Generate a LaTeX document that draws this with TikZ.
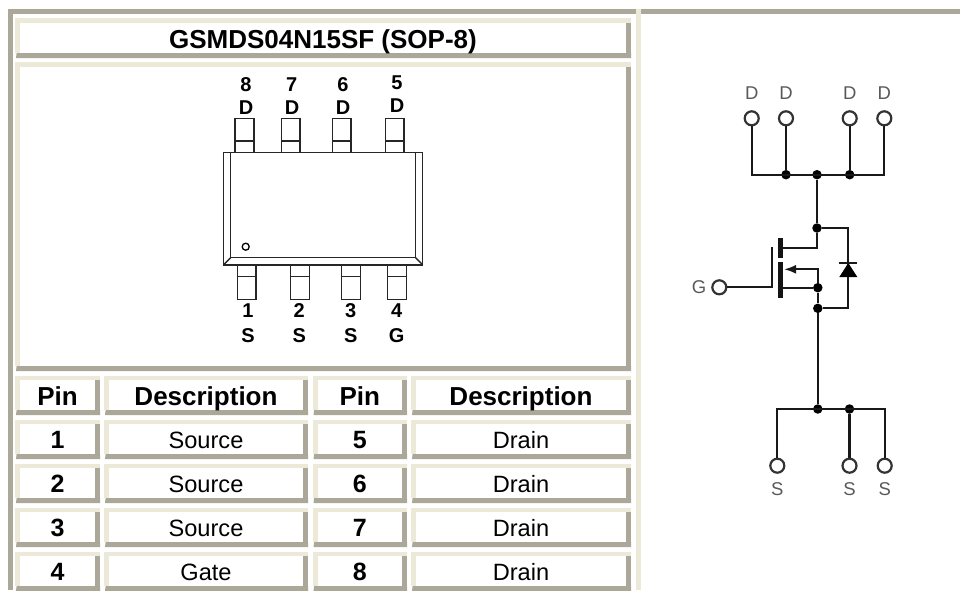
\documentclass[tikz,border=0pt]{standalone}
\usepackage{fontspec}
\setmainfont{Liberation Sans}
\usetikzlibrary{positioning, calc, arrows.meta}
\definecolor{edgedark}{HTML}{ACA899}
\definecolor{edgelight}{HTML}{ECE9D8}
\newcommand{\ppb}{path picture bounding box}
\tikzset{
	cell/.style n args={3}{minimum width=#1pt, minimum height=#2pt, inner sep=0pt, outer sep=0pt, text depth=0.4pt, text height=18pt,
		path picture={
			\fill[edgelight] (\ppb.north west) rectangle ([yshift=-#3pt]\ppb.north east);
			\fill[edgelight] (\ppb.north west) rectangle ([shift={(5pt,5pt)}]\ppb.south west);
			\fill[edgedark] ([yshift=-#3pt]\ppb.north east) rectangle ([shift={(-5pt,5pt)}]\ppb.south east);
			\fill[edgedark] ([xshift=1pt]\ppb.south west) -- ([shift={(1.6pt,5pt)}]\ppb.south west) -- ([yshift=5pt]\ppb.south east) -- (\ppb.south east) -- cycle;
	}},
	headtext/.style={font=\fontsize{26}{30}\selectfont\bfseries},
	pintext/.style={font=\fontsize{25}{30}\selectfont\bfseries},
	desctext/.style={font=\fontsize{23.6}{28}\selectfont},
	legend/.style={font=\fontsize{20}{22}\selectfont\bfseries, inner sep=0pt},
	schemtext/.style={font=\fontsize{18.5}{20}\selectfont, text=black!65, inner sep=0pt},
	pkg/.style={line width=1.4pt, black!85},
	wire/.style={line width=2.2pt, black!90},
	channel/.style={line width=5.4pt, black!92},
	port/.style={circle, draw=black!80, line width=2.2pt, fill=white, minimum size=14pt, inner sep=0pt},
	junction/.style={circle, fill=black, minimum size=9.5pt, inner sep=0pt},
}
\begin{document}
\begin{tikzpicture}[x=1pt, y=-1pt]
	\useasboundingbox (0,0) rectangle (960,590);
	
	%Outer frame
	\fill[edgedark] (8,9) rectangle (636,14);
	\fill[edgedark] (8,9) rectangle (13,590);
	\fill[edgedark] (641,9) rectangle (960,14);
	\fill[edgelight] (636,9) rectangle (641,590);
	
	%Title and package cells
	\node (titleCell) at (323,38) [cell={616}{40}{5}, headtext, text depth=0.6pt, text height=22pt]{GSMDS04N15SF (SOP-8)};
	\node (packageCell) at (323,216.5) [cell={616}{309}{5}]{};
	
	%Header row
	\node (headPinA) at (57.5,395.5) [cell={85}{39}{4}, headtext, text depth=0pt, text height=19pt]{Pin};
	\node (headDescA) at (206,395.5) [cell={204}{39}{4}, headtext, text depth=0pt, text height=19pt]{Description};
	\node (headPinB) at (359.75,395.5) [cell={94.5}{39}{4}, headtext, text depth=0pt, text height=19pt]{Pin};
	\node (headDescB) at (521,395.5) [cell={220}{39}{4}, headtext, text depth=0pt, text height=19pt]{Description};
	
	%Pin rows
	\node (pinA) at (57.5,439.5) [cell={85}{39}{4}, pintext]{1};
	\node (descA) at (206,439.5) [cell={204}{39}{4}, desctext]{Source};
	\node (pinE) at (359.75,439.5) [cell={94.5}{39}{4}, pintext]{5};
	\node (descE) at (521,439.5) [cell={220}{39}{4}, desctext]{Drain};
	
	\node (pinB) at (57.5,483.5) [cell={85}{39}{4}, pintext]{2};
	\node (descB) at (206,483.5) [cell={204}{39}{4}, desctext]{Source};
	\node (pinF) at (359.75,483.5) [cell={94.5}{39}{4}, pintext]{6};
	\node (descF) at (521,483.5) [cell={220}{39}{4}, desctext]{Drain};
	
	\node (pinC) at (57.5,527.5) [cell={85}{39}{4}, pintext]{3};
	\node (descC) at (206,527.5) [cell={204}{39}{4}, desctext]{Source};
	\node (pinG) at (359.75,527.5) [cell={94.5}{39}{4}, pintext]{7};
	\node (descG) at (521,527.5) [cell={220}{39}{4}, desctext]{Drain};
	
	\node (pinD) at (57.5,571.5) [cell={85}{39}{4}, pintext]{4};
	\node (descD) at (206,571.5) [cell={204}{39}{4}, desctext]{Gate};
	\node (pinH) at (359.75,571.5) [cell={94.5}{39}{4}, pintext]{8};
	\node (descH) at (521,571.5) [cell={220}{39}{4}, desctext]{Drain};
	
	%Package body
	\draw[pkg] (223.3,152.5) rectangle (422.7,265);
	\draw[pkg] (230.7,152.5) -- (230.7,257.7) -- (415.7,257.7) -- (415.7,152.5);
	\draw[pkg] (223.3,265) -- (230.7,257.7);
	\draw[pkg] (422.7,265) -- (415.7,257.7);
	\node (pinMark) at (245.7,246.7) [circle, draw, line width=1.3pt, minimum size=7pt, inner sep=0pt]{};
	
	%Top leads
	\draw[pkg] (235,118.7) rectangle (254,152.5);
	\draw[pkg] (235,141) -- (254,141);
	\draw[pkg] (281.7,118.7) rectangle (300,152.5);
	\draw[pkg] (281.7,141) -- (300,141);
	\draw[pkg] (332.3,118.7) rectangle (351,152.5);
	\draw[pkg] (332.3,141) -- (351,141);
	\draw[pkg] (385.7,118.7) rectangle (404,152.5);
	\draw[pkg] (385.7,141) -- (404,141);
	
	%Bottom leads
	\draw[pkg] (237.3,265) rectangle (256,299.3);
	\draw[pkg] (237.3,276.7) -- (256,276.7);
	\draw[pkg] (290.7,265) rectangle (309.5,299.3);
	\draw[pkg] (290.7,276.7) -- (309.5,276.7);
	\draw[pkg] (341.7,265) rectangle (360.3,299.3);
	\draw[pkg] (341.7,276.7) -- (360.3,276.7);
	\draw[pkg] (387.7,265) rectangle (406.5,299.3);
	\draw[pkg] (387.7,276.7) -- (406.5,276.7);
	
	%Lead labels
	\node (numEight) at (246,85) [legend]{8};
	\node (numSeven) at (291.7,85) [legend]{7};
	\node (numSix) at (343,85) [legend]{6};
	\node (numFive) at (397,82.7) [legend]{5};
	\node (nameEight) at (246,107.7) [legend]{D};
	\node (nameSeven) at (292,107.7) [legend]{D};
	\node (nameSix) at (343,107.7) [legend]{D};
	\node (nameFive) at (397,106) [legend]{D};
	\node (numOne) at (248,310.7) [legend]{1};
	\node (numTwo) at (299.3,310.7) [legend]{2};
	\node (numThree) at (350.7,310.7) [legend]{3};
	\node (numFour) at (396.7,310.7) [legend]{4};
	\node (nameOne) at (248,335.7) [legend]{S};
	\node (nameTwo) at (299.3,335.7) [legend]{S};
	\node (nameThree) at (350.7,335.7) [legend]{S};
	\node (nameFour) at (396.7,335.7) [legend]{G};
	
	%Schematic ports
	\node (portDa) at (751.7,118.3) [port]{};
	\node (portDb) at (786,118.3) [port]{};
	\node (portDc) at (849.7,118.3) [port]{};
	\node (portDd) at (884.3,118.3) [port]{};
	\node (portG) at (719.3,287.3) [port]{};
	\node (portSa) at (777.3,465.7) [port]{};
	\node (portSb) at (849.5,465.7) [port]{};
	\node (portSc) at (884.7,465.7) [port]{};
	
	\node (labelDa) at (751.7,92.7) [schemtext]{D};
	\node (labelDb) at (786,92.7) [schemtext]{D};
	\node (labelDc) at (849.7,92.7) [schemtext]{D};
	\node (labelDd) at (884.3,92.7) [schemtext]{D};
	\node (labelG) at (699,287.3) [schemtext]{G};
	\node (labelSa) at (777.3,488.7) [schemtext]{S};
	\node (labelSb) at (849.5,488.7) [schemtext]{S};
	\node (labelSc) at (884.7,488.7) [schemtext]{S};
	
	%Junctions
	\node (dotDb) at (786,174.7) [junction]{};
	\node (dotDrain) at (817,174.7) [junction]{};
	\node (dotDc) at (849.7,174.7) [junction]{};
	\node (dotDiode) at (817,228) [junction]{};
	\node (dotBody) at (817.8,287.7) [junction]{};
	\node (dotAnode) at (817.8,308.3) [junction]{};
	\node (dotSource) at (817.8,409) [junction]{};
	\node (dotSb) at (849.5,409) [junction]{};
	
	%Corners
	\coordinate (busDa) at (751.7,174.7);
	\coordinate (busDd) at (884.3,174.7);
	\coordinate (busSa) at (777.3,409);
	\coordinate (busSc) at (884.7,409);
	\coordinate (drainStub) at (783,248.3);
	\coordinate (drainTurn) at (817,248.3);
	\coordinate (gateLow) at (771.7,287.3);
	\coordinate (gateHigh) at (771.7,247);
	\coordinate (arrowTip) at (784,269.3);
	\coordinate (arrowTurn) at (817.8,269.3);
	\coordinate (sourceStub) at (783,287.7);
	\coordinate (diodeTop) at (848.3,228);
	\coordinate (diodeLow) at (848.3,308.3);
	
	%Links
	\draw[wire] (portDa) -- (busDa) -- (busDd) -- (portDd);
	\draw[wire] (portDb) -- (dotDb);
	\draw[wire] (portDc) -- (dotDc);
	\draw[wire] (dotDrain) -- (dotDiode) -- (drainTurn) -- (drainStub);
	\draw[wire] (portG) -- (gateLow) -- (gateHigh);
	\draw[wire, -{Latex[length=12pt,width=9pt]}] (dotBody) -- (arrowTurn) -- (arrowTip);
	\draw[wire] (sourceStub) -- (dotBody) -- (dotAnode) -- (dotSource);
	\draw[wire] (dotDiode) -- (diodeTop) -- (diodeLow) -- (dotAnode);
	\draw[wire] (portSa) -- (busSa) -- (busSc) -- (portSc);
	\draw[wire] (dotSb) -- (portSb);
	
	%Channel bars
	\draw[channel] (780.7,238) -- (780.7,258);
	\draw[channel] (780.7,261.7) -- (780.7,298);
	
	%Diode
	\fill[black] (848.3,263) -- (839.3,277) -- (857.3,277) -- cycle;
	\draw[wire] (839.3,263) -- (857.3,263);
\end{tikzpicture}
\end{document}
